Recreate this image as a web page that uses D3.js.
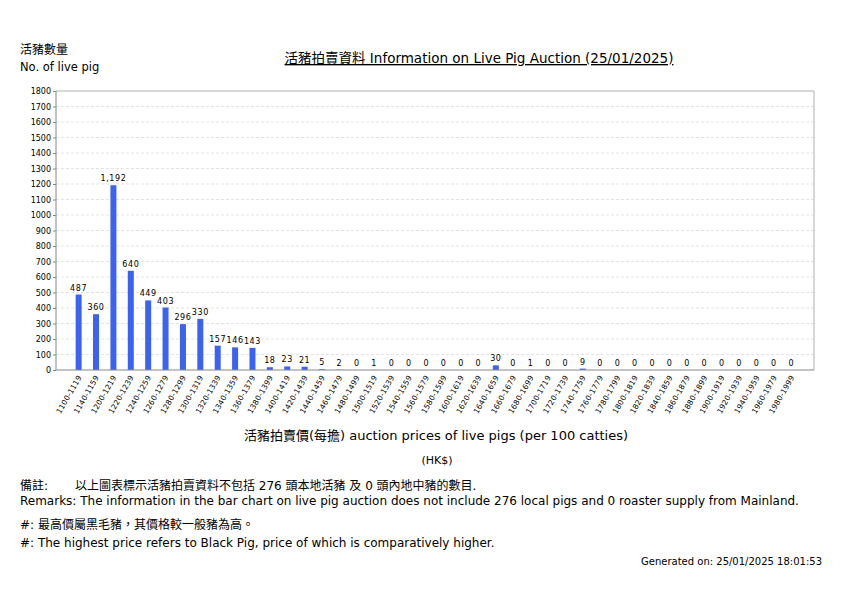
<!DOCTYPE html>
<html>
<head>
<meta charset="utf-8">
<script src="https://cdn.jsdelivr.net/npm/d3@7"></script>
<style>
  body { margin: 0; background: #fff; }
  text { font-family: "DejaVu Sans", "Noto Sans CJK TC", sans-serif; }
</style>
</head>
<body>
<svg id="chart"></svg>
<script>
// price bands (HK$ per 100 catties)
var categories = ["1100-1119","1140-1159","1200-1219","1220-1239","1240-1259","1260-1279",
  "1280-1299","1300-1319","1320-1339","1340-1359","1360-1379","1380-1399","1400-1419",
  "1420-1439","1440-1459","1460-1479","1480-1499","1500-1519","1520-1539","1540-1559",
  "1560-1579","1580-1599","1600-1619","1620-1639","1640-1659","1660-1679","1680-1699",
  "1700-1719","1720-1739","1740-1759","1760-1779","1780-1799","1800-1819","1820-1839",
  "1840-1859","1860-1879","1880-1899","1900-1919","1920-1939","1940-1959","1960-1979",
  "1980-1999"];

// number of live pigs per band
var pigs = [487,360,1192,640,449,403,296,330,157,146,143,18,23,21,5,2,0,1,0,0,
  0,0,0,0,30,0,1,0,0,9,0,0,0,0,0,0,0,0,0,0,0,0];

var yTicks = d3.range(0, 1801, 100);

var data = categories.map(function(c, i) { return {band: c, value: pigs[i]}; });

var screen = { width: 842, height: 595 };
var margins = { top: 91, bottom: 225, left: 56, right: 28 };

var svg = d3.select("#chart")
  .attr("width", screen.width)
  .attr("height", screen.height);

var width = screen.width - margins.left - margins.right;
var height = screen.height - margins.top - margins.bottom;

var xScale = d3.scaleBand()
  .domain(categories)
  .range([0, width])
  .paddingInner(0.655)
  .paddingOuter(1.13);

var yScale = d3.scaleLinear()
  .domain([0, 1800])
  .range([height, 0]);

var plot = svg.append("g")
  .attr("transform", "translate(" + margins.left + "," + margins.top + ")");

// dashed grid
plot.append("g").selectAll("line")
  .data(yTicks.slice(1, -1))
  .enter()
  .append("line")
  .attr("x1", 0)
  .attr("x2", width)
  .attr("y1", function(d) { return yScale(d); })
  .attr("y2", function(d) { return yScale(d); })
  .attr("stroke", "#dcdcdc")
  .attr("stroke-width", 0.8)
  .attr("stroke-dasharray", "3,2");

// frame top / right
plot.append("path")
  .attr("d", "M0,0H" + width + "V" + height)
  .attr("fill", "none")
  .attr("stroke", "#b0b0b0")
  .attr("stroke-width", 1);

// bars
plot.selectAll("rect")
  .data(data)
  .enter()
  .append("rect")
  .attr("x", function(d) { return xScale(d.band); })
  .attr("y", function(d) { return yScale(d.value); })
  .attr("width", xScale.bandwidth())
  .attr("height", function(d) { return height - yScale(d.value); })
  .attr("fill", "#3c62f2");

// value labels
plot.selectAll(".val")
  .data(data)
  .enter()
  .append("text")
  .attr("class", "val")
  .attr("x", function(d) { return xScale(d.band) + xScale.bandwidth() / 2; })
  .attr("y", function(d) { return yScale(d.value) - 4; })
  .attr("text-anchor", "middle")
  .attr("font-size", "8px")
  .attr("letter-spacing", "0.6px")
  .attr("fill", "#000")
  .text(function(d) { return d3.format(",")(d.value); });

// y axis
var yAxis = plot.append("g")
  .call(d3.axisLeft(yScale).tickValues(yTicks).tickSize(3).tickPadding(2).tickFormat(d3.format("d")));
yAxis.select(".domain").attr("stroke", "#888").attr("d", "M0," + height + "V0");
yAxis.selectAll(".tick line").attr("stroke", "#888");
yAxis.selectAll("text").attr("font-size", "8px").attr("fill", "#000")
  .attr("font-family", "DejaVu Sans");

// x axis
var xAxis = plot.append("g")
  .attr("transform", "translate(0," + height + ")")
  .call(d3.axisBottom(xScale).tickSize(0).tickPadding(0));
xAxis.select(".domain").attr("stroke", "#888").attr("d", "M0,0H" + width);
xAxis.selectAll("text")
  .attr("font-size", "7.5px")
  .attr("letter-spacing", "0.2px")
  .attr("fill", "#000")
  .attr("text-anchor", "end")
  .attr("transform", "translate(1,6) rotate(-60)")
  .attr("dy", "0.35em")
  .attr("y", 0);

// titles
svg.append("text")
  .attr("x", 20).attr("y", 54)
  .attr("font-size", "12px")
  .text("活豬數量");
svg.append("text")
  .attr("x", 20).attr("y", 71)
  .attr("font-size", "11.5px")
  .text("No. of live pig");

svg.append("text")
  .attr("x", 479).attr("y", 63)
  .attr("text-anchor", "middle")
  .attr("font-size", "13.5px")
  .attr("text-decoration", "underline")
  .text("活豬拍賣資料 Information on Live Pig Auction (25/01/2025)");

svg.append("text")
  .attr("x", 436).attr("y", 440)
  .attr("text-anchor", "middle")
  .attr("font-size", "13px")
  .text("活豬拍賣價(每擔) auction prices of live pigs (per 100 catties)");
svg.append("text")
  .attr("x", 437).attr("y", 464)
  .attr("text-anchor", "middle")
  .attr("font-size", "11px")
  .text("(HK$)");

// remarks
svg.append("text")
  .attr("x", 20).attr("y", 490)
  .attr("font-size", "12px")
  .text("備註:");
svg.append("text")
  .attr("x", 75).attr("y", 490)
  .attr("font-size", "12px")
  .text("以上圖表標示活豬拍賣資料不包括 276 頭本地活豬 及 0 頭內地中豬的數目.");
svg.append("text")
  .attr("x", 20).attr("y", 505)
  .attr("font-size", "12px")
  .text("Remarks: The information in the bar chart on live pig auction does not include 276 local pigs and 0 roaster supply from Mainland.");
svg.append("text")
  .attr("x", 20).attr("y", 529)
  .attr("font-size", "12px")
  .text("#: 最高價屬黑毛豬，其價格較一般豬為高。");
svg.append("text")
  .attr("x", 20).attr("y", 547)
  .attr("font-size", "12px")
  .text("#: The highest price refers to Black Pig, price of which is comparatively higher.");
svg.append("text")
  .attr("x", 822).attr("y", 565)
  .attr("text-anchor", "end")
  .attr("font-size", "10px")
  .text("Generated on: 25/01/2025 18:01:53");
</script>
</body>
</html>
